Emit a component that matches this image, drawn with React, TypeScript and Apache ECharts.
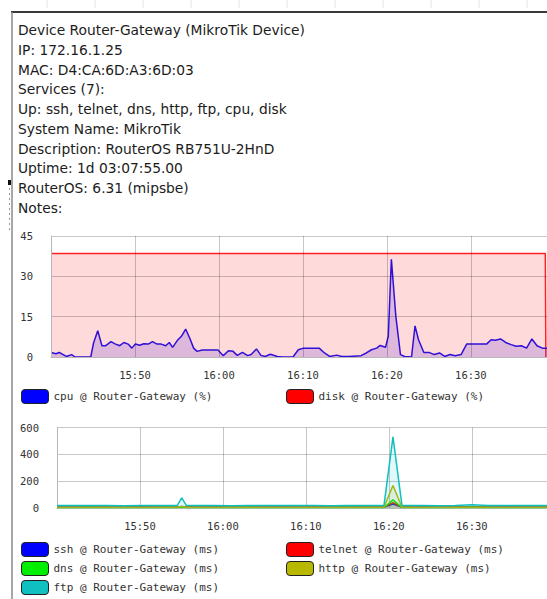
import React, { useEffect, useRef } from "react";
import * as echarts from "echarts";

const infoLines = [
  "Device Router-Gateway (MikroTik Device)",
  "IP: 172.16.1.25",
  "MAC: D4:CA:6D:A3:6D:03",
  "Services (7):",
  "Up: ssh, telnet, dns, http, ftp, cpu, disk",
  "System Name: MikroTik",
  "Description: RouterOS RB751U-2HnD",
  "Uptime: 1d 03:07:55.00",
  "RouterOS: 6.31 (mipsbe)",
  "Notes:",
];

const cpuTimes = ["15:40:00","15:40:35","15:41:00","15:41:20","15:41:50","15:42:27","15:42:52","15:44:44","15:45:04","15:45:34","15:46:04","15:46:31","15:47:09","15:47:38","15:48:11","15:48:41","15:49:11","15:49:38","15:50:03","15:50:33","15:51:03","15:51:35","15:52:05","15:52:37","15:53:07","15:53:40","15:54:05","15:54:29","15:55:02","15:55:32","15:56:02","15:56:34","15:56:59","15:57:24","15:58:01","15:58:51","15:59:53","16:00:31","16:01:08","16:01:41","16:02:11","16:02:48","16:03:25","16:03:50","16:04:28","16:05:00","16:05:30","16:06:07","16:06:57","16:07:34","16:08:49","16:09:27","16:10:04","16:11:56","16:12:34","16:13:11","16:14:01","16:14:38","16:15:28","16:16:55","16:17:33","16:18:10","16:18:47","16:19:12","16:19:50","16:20:10","16:20:32","16:21:04","16:21:37","16:22:07","16:22:56","16:23:21","16:23:46","16:24:24","16:25:01","16:25:38","16:26:16","16:26:53","16:27:31","16:28:08","16:28:50","16:29:30","16:30:00","16:31:52","16:32:25","16:32:55","16:33:32","16:34:09","16:34:47","16:35:24","16:36:01","16:36:38","16:37:16","16:37:53","16:38:31","16:39:04"];
const cpuValues = [1.7,1.2,1.7,1.1,0.2,0.9,0,0,5.2,9.8,4.2,4.2,5.7,4.9,4.2,5.4,4.8,3.3,4.8,4.4,4.9,4.8,5.7,4.8,4.8,4.2,5.4,3.6,6.1,7.7,10.4,6.7,3.3,2.1,2.6,2.6,2.6,0.5,2.3,2.1,0.6,1.7,0.5,0.9,3.0,0.6,0.2,1.0,0.2,0,0,2.7,3.3,3.3,1.5,0.2,0.7,0.2,0.2,0.5,1.5,2.7,3.3,4.3,3.6,7.7,36.3,15.1,0.9,0.2,0,11.6,6.4,1.7,1.7,0.9,1.5,0.2,0.9,0.5,0.9,4.8,4.8,4.8,6.4,6.2,6.7,5.4,4.6,4.0,4.2,3.3,6.7,4.2,3.3,3.3];

const diskTimes = ["15:40:00", "16:38:52", "16:38:56"];
const diskValues = [38.5, 38.5, 0];

const msTimes = ["15:40:00","15:42:00","15:44:00","15:46:00","15:48:00","15:50:00","15:52:00","15:54:00","15:54:30","15:55:02","15:55:35","15:57:00","15:59:00","16:01:00","16:03:00","16:05:00","16:07:00","16:09:00","16:11:00","16:13:00","16:15:00","16:17:00","16:19:00","16:19:25","16:20:30","16:21:35","16:22:30","16:24:00","16:26:00","16:28:00","16:30:00","16:32:00","16:34:00","16:36:00","16:38:00","16:39:04"];
const sshValues =    [8,8,9,8,8,9,8,8,8,12,8,8,9,8,8,8,9,8,8,8,9,8,8,8,30,8,8,9,8,8,8,8,9,8,8,8];
const telnetValues = [6,6,6,7,6,6,6,6,6,10,6,6,6,7,6,6,6,6,7,6,6,6,6,6,40,6,6,6,6,7,6,6,6,6,6,6];
const dnsValues =    [4,4,5,4,4,4,4,5,4,8,4,4,4,4,5,4,4,4,4,4,5,4,4,4,60,4,4,4,4,4,5,4,4,4,4,4];
const httpValues =   [5,5,5,6,5,5,5,5,5,12,5,5,5,5,5,6,5,5,5,5,5,5,5,6,168,6,5,5,5,5,6,5,5,5,5,5];
const ftpValues =    [18,19,18,18,17,18,19,18,20,75,20,18,18,17,18,18,19,18,18,17,18,18,18,20,530,20,18,18,17,18,25,18,18,19,18,18];

const cpuTicks = [0, 15, 30, 45];
const msTicks = [0, 200, 400, 600];

const toTs = (s: string) => {
  const [h, m, sec] = s.split(":").map(Number);
  return Date.UTC(2020, 0, 1, h, m, sec);
};
const pad = (n: number) => (n < 10 ? "0" + n : "" + n);
const fmtTime = (v: number) => {
  const d = new Date(v);
  return pad(d.getUTCHours()) + ":" + pad(d.getUTCMinutes());
};

const MONO = "'DejaVu Sans Mono', monospace";

export default function App() {
  const ref = useRef<HTMLDivElement>(null);
  useEffect(() => {
    if (!ref.current) return;
    const chart = echarts.init(ref.current, null, { renderer: "svg" });
    const xMin = toTs("15:40:00");
    const xMax = toTs("16:39:04");
    const gridColor = "rgba(0,0,0,0.22)";
    const mkX = (gi: number) => ({
      type: "value",
      gridIndex: gi,
      min: xMin,
      max: xMax,
      interval: 600000,
      z: 3,
      axisLine: { show: true, lineStyle: { color: "#b8b8b8" } },
      axisTick: { show: false },
      splitLine: { show: true, lineStyle: { color: gridColor } },
      axisLabel: {
        formatter: (v: number) => fmtTime(v),
        showMinLabel: false,
        showMaxLabel: false,
        fontFamily: MONO,
        fontSize: 10.5,
        color: "#333",
        margin: 12,
      },
    });
    const mkY = (gi: number, ticks: number[]) => ({
      type: "value",
      gridIndex: gi,
      min: ticks[0],
      max: ticks[ticks.length - 1],
      interval: ticks[1] - ticks[0],
      z: 3,
      axisLine: { show: true, lineStyle: { color: "#b8b8b8" } },
      axisTick: { show: false },
      splitLine: { show: true, lineStyle: { color: gridColor } },
      axisLabel: { fontFamily: MONO, fontSize: 10.5, color: "#333", margin: 18 },
    });
    const pairs = (t: string[], v: number[]) => t.map((s, i) => [toTs(s), v[i]]);
    const msSeries = [
      { name: "ssh @ Router-Gateway (ms)", color: "#0000ff", vals: sshValues },
      { name: "telnet @ Router-Gateway (ms)", color: "#ff0000", vals: telnetValues },
      { name: "dns @ Router-Gateway (ms)", color: "#00ee00", vals: dnsValues },
      { name: "http @ Router-Gateway (ms)", color: "#b8b800", vals: httpValues },
      { name: "ftp @ Router-Gateway (ms)", color: "#10c0c0", vals: ftpValues },
    ];
    const legendBase = {
      icon: "roundRect",
      itemWidth: 27,
      itemHeight: 14,
      itemStyle: { borderColor: "#222", borderWidth: 1 },
      textStyle: { fontFamily: MONO, fontSize: 11, color: "#333" },
      padding: 0,
    };
    const tickMarks: any[] = [];
    for (let x = 47; x < 547; x += 48) {
      tickMarks.push({
        type: "line",
        shape: { x1: x, y1: 0, x2: x, y2: 8 },
        style: { stroke: "#e4e4e4", lineWidth: 1 },
        silent: true,
      });
    }
    chart.setOption({
      animation: false,
      backgroundColor: "#ffffff",
      grid: [
        { left: 51, top: 236, width: 496, height: 121 },
        { left: 57, top: 427.5, width: 490, height: 80.5 },
      ],
      xAxis: [mkX(0), mkX(1)],
      yAxis: [mkY(0, cpuTicks), mkY(1, msTicks)],
      legend: [
        { ...legendBase, data: ["cpu @ Router-Gateway (%)"], left: 21, top: 389 },
        { ...legendBase, data: ["disk @ Router-Gateway (%)"], left: 286, top: 389 },
        { ...legendBase, data: [msSeries[0].name], left: 21, top: 542 },
        { ...legendBase, data: [msSeries[1].name], left: 286, top: 542 },
        { ...legendBase, data: [msSeries[2].name], left: 21, top: 561 },
        { ...legendBase, data: [msSeries[3].name], left: 286, top: 561 },
        { ...legendBase, data: [msSeries[4].name], left: 21, top: 580 },
      ],
      series: [
        {
          name: "disk @ Router-Gateway (%)",
          type: "line",
          xAxisIndex: 0,
          yAxisIndex: 0,
          data: pairs(diskTimes, diskValues),
          showSymbol: false,
          color: "#ff0000",
          lineStyle: { color: "#ff2020", width: 1.5 },
          areaStyle: { color: "rgba(255,0,0,0.21)" },
          z: 1,
        },
        {
          name: "cpu @ Router-Gateway (%)",
          type: "line",
          xAxisIndex: 0,
          yAxisIndex: 0,
          data: pairs(cpuTimes, cpuValues),
          showSymbol: false,
          color: "#0000ff",
          lineStyle: { color: "#3010d8", width: 1.5 },
          areaStyle: { color: "rgba(40,0,220,0.22)" },
          z: 2,
        },
        ...msSeries.map((s, i) => ({
          name: s.name,
          type: "line",
          xAxisIndex: 1,
          yAxisIndex: 1,
          data: pairs(msTimes, s.vals),
          showSymbol: false,
          color: s.color,
          lineStyle: { color: s.color, width: 1.5 },
          areaStyle: { color: s.color, opacity: 0.12 },
          z: 2 + i,
        })),
      ],
      graphic: [
        ...tickMarks,
        {
          type: "line",
          shape: { x1: 11, y1: 12, x2: 547, y2: 12 },
          style: { stroke: "#3a3a3a", lineWidth: 2 },
          silent: true,
        },
        {
          type: "line",
          shape: { x1: 12, y1: 12, x2: 12, y2: 599 },
          style: { stroke: "#8a8a8a", lineWidth: 1.5 },
          silent: true,
        },
        {
          type: "rect",
          shape: { x: 8, y: 180, width: 3, height: 5 },
          style: { fill: "#111" },
          silent: true,
        },
        {
          type: "line",
          shape: { x1: 9.5, y1: 188, x2: 9.5, y2: 230 },
          style: { stroke: "#999", lineWidth: 1, lineDash: [2, 3] },
          silent: true,
        },
        ...infoLines.map((t, i) => ({
          type: "text",
          x: 18,
          y: 30 + i * 19.78,
          style: {
            text: t,
            fill: "#1c1c1c",
            font: "13.8px 'DejaVu Sans', sans-serif",
            textVerticalAlign: "middle",
            textAlign: "left",
          },
          silent: true,
        })),
      ],
    });
    return () => chart.dispose();
  }, []);
  return (
    <div
      ref={ref}
      style={{ position: "fixed", left: 0, top: 0, width: 547, height: 599, background: "#fff" }}
    />
  );
}
